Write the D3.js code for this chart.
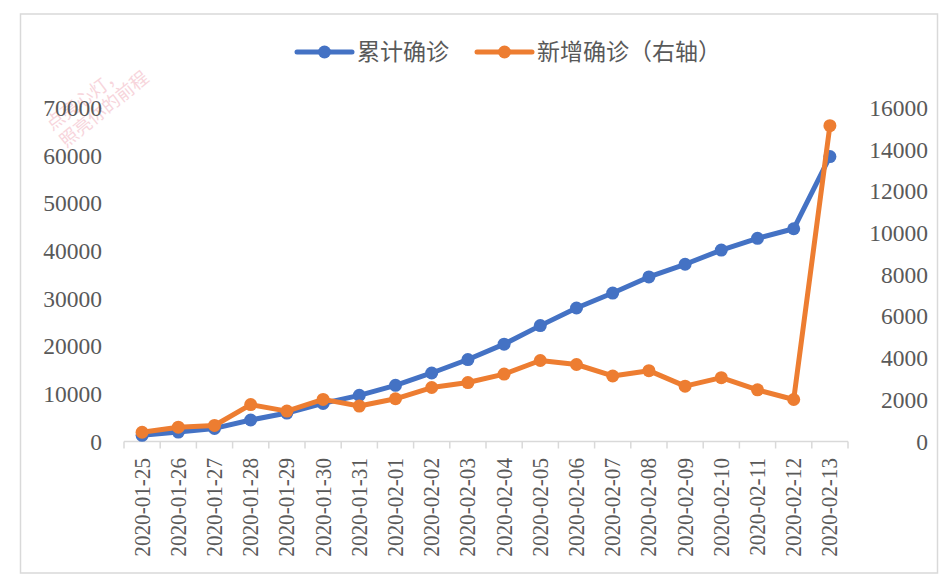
<!DOCTYPE html>
<html lang="zh">
<head>
<meta charset="UTF-8">
<title>累计确诊与新增确诊</title>
<style>
  body { margin: 0; padding: 0; background: #fff; }
</style>
</head>
<body>
<div id="container"></div>
<script src="https://d3js.org/d3.v7.min.js"></script>
<script>
  // 数据
  const dates = ["2020-01-25", "2020-01-26", "2020-01-27", "2020-01-28", "2020-01-29", "2020-01-30",
    "2020-01-31", "2020-02-01", "2020-02-02", "2020-02-03", "2020-02-04", "2020-02-05", "2020-02-06",
    "2020-02-07", "2020-02-08", "2020-02-09", "2020-02-10", "2020-02-11", "2020-02-12", "2020-02-13"]
  const cumulative = [1287, 1975, 2744, 4515, 5974, 7990, 9692, 11791, 14380, 17205, 20438, 24324,
    28018, 31161, 34546, 37198, 40171, 42638, 44653, 59804]
  const newCases = [444, 688, 769, 1771, 1459, 2020, 1700, 2050, 2590, 2829, 3235, 3887, 3694,
    3143, 3399, 2656, 3062, 2478, 2015, 15152]
  const leftTicks = [0, 10000, 20000, 30000, 40000, 50000, 60000, 70000]
  const rightTicks = [0, 2000, 4000, 6000, 8000, 10000, 12000, 14000, 16000]
  const legendNames = ["累计确诊", "新增确诊（右轴）"]

  const W = 947, H = 580
  const blue = "#4472c4", orange = "#ed7d31", textColor = "#595959", gridColor = "#d9d9d9"
  const serif = "'Liberation Serif', 'Times New Roman', serif"
  const cjk = "'Noto Sans CJK SC', 'Noto Sans', sans-serif"

  const svg = d3.select("#container").append("svg").attr("width", W).attr("height", H)

  // 外框
  svg.append("rect").attr("x", 20.5).attr("y", 14).attr("width", 917).attr("height", 559)
    .attr("fill", "#fff").attr("stroke", gridColor).attr("stroke-width", 1.5)

  // 水印
  const wm = svg.append("g").style("font-family", cjk).style("font-size", "18px")
    .attr("fill", "#f2b3c0").attr("opacity", 0.55)
  wm.append("text").attr("transform", "translate(52,131) rotate(-37)").text("点亮心灯，")
  wm.append("text").attr("transform", "translate(66,148) rotate(-39)").text("照亮你的前程")

  const x = d3.scaleBand().domain(dates).range([124, 848])
  const yL = d3.scaleLinear().domain([0, 70000]).range([441.5, 108])
  const yR = d3.scaleLinear().domain([0, 16000]).range([441.5, 108])

  // 左轴
  const gl = svg.append("g").attr("transform", "translate(102,0)")
    .call(d3.axisLeft(yL).tickValues(leftTicks).tickSize(0).tickPadding(0).tickFormat(d3.format("d")))
  gl.select(".domain").remove()
  gl.selectAll("text").style("font-family", serif).style("font-size", "23.5px").attr("fill", textColor)

  // 右轴
  const gr = svg.append("g").attr("transform", "translate(928,0)")
    .call(d3.axisLeft(yR).tickValues(rightTicks).tickSize(0).tickPadding(0).tickFormat(d3.format("d")))
  gr.select(".domain").remove()
  gr.selectAll("text").style("font-family", serif).style("font-size", "23.5px").attr("fill", textColor)

  // 横轴
  const gx = svg.append("g").attr("transform", "translate(0,441.5)")
  gx.append("line").attr("x1", 124).attr("x2", 848).attr("stroke", gridColor).attr("stroke-width", 1.5)
  const tickXs = dates.map(d => x(d)).concat([x.range()[1]])
  gx.selectAll(".tk").data(tickXs).enter().append("line")
    .attr("x1", d => d).attr("x2", d => d).attr("y1", 0).attr("y2", 7)
    .attr("stroke", gridColor).attr("stroke-width", 1.5)
  gx.selectAll(".lbl").data(dates).enter().append("text")
    .attr("transform", d => `translate(${x(d) + x.bandwidth() / 2 + 7.5},16.5) rotate(-90) scale(0.92,1)`)
    .attr("text-anchor", "end")
    .style("font-family", serif).style("font-size", "23px").attr("fill", textColor)
    .text(d => d)

  const cx = (d, i) => x(dates[i]) + x.bandwidth() / 2

  function drawSeries(values, scale, color) {
    const line = d3.line().x(cx).y(d => scale(d))
    svg.append("path").datum(values).attr("d", line).attr("fill", "none")
      .attr("stroke", color).attr("stroke-width", 5).attr("stroke-linejoin", "round").attr("stroke-linecap", "round")
    svg.append("g").selectAll("circle").data(values).enter().append("circle")
      .attr("cx", cx).attr("cy", d => scale(d)).attr("r", 6.5).attr("fill", color)
  }
  drawSeries(cumulative, yL, blue)
  drawSeries(newCases, yR, orange)

  // 图例
  const legend = [{ name: legendNames[0], color: blue, x: 297 }, { name: legendNames[1], color: orange, x: 477 }]
  const lg = svg.append("g")
  legend.forEach(function (d) {
    lg.append("line").attr("x1", d.x).attr("x2", d.x + 55).attr("y1", 52).attr("y2", 52)
      .attr("stroke", d.color).attr("stroke-width", 5).attr("stroke-linecap", "round")
    lg.append("circle").attr("cx", d.x + 27.5).attr("cy", 52).attr("r", 6.5).attr("fill", d.color)
    lg.append("text").attr("x", d.x + 60).attr("y", 52).attr("dy", "0.35em")
      .style("font-family", cjk).style("font-size", "23px").attr("fill", textColor).text(d.name)
  })
</script>
</body>
</html>
